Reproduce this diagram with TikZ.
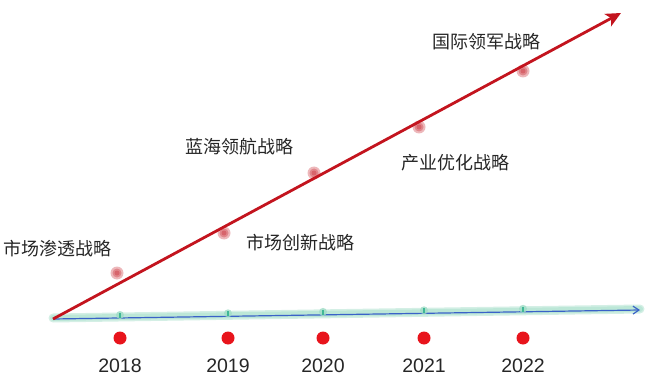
\documentclass[tikz,border=0pt]{standalone}
\usepackage{fontspec}
\setmainfont{Liberation Sans}
\newfontfamily\cjk{Noto Sans CJK SC}
\usetikzlibrary{arrows.meta}
\definecolor{linered}{HTML}{C3141E}
\definecolor{dotred}{HTML}{E8141C}
\definecolor{axisblue}{HTML}{3A62C8}
\definecolor{glow}{HTML}{9FDCC6}
\definecolor{tickgreen}{HTML}{3FB896}
\tikzset{
  stage/.style={font=\cjk\fontsize{18}{18}\selectfont, text=black!85, inner sep=0pt},
  year/.style={font=\fontsize{19.5}{19.5}\selectfont, text=black!85, inner sep=0pt},
  yeardot/.style={circle, fill=dotred, minimum size=13pt, inner sep=0pt},
  blurdot/.style={fill=linered, opacity=0.3},
  glowline/.style={glow, line cap=round, line join=round, opacity=0.45}
}
\begin{document}
\begin{tikzpicture}[x=1pt,y=-1pt]
  \useasboundingbox (0,0) rectangle (650,382);
  \coordinate (o) at (53,319);
  \coordinate (tip) at (621,13);
  \coordinate (xend) at (640,310);
  % time axis
  \draw[glowline, line width=9pt] ([yshift=1pt]o) -- ([yshift=1pt]xend);
  \draw[glowline, line width=6pt] ([yshift=1pt]o) -- ([yshift=1pt]xend);
  \draw[axisblue, line width=1.2pt, -{Straight Barb[length=6pt,width=8pt]}] (o) -- (xend);
  \foreach \x/\yr in {120/2018,228/2019,323/2020,424/2021,523/2022}{
    \pgfmathsetmacro{\ya}{319-9*(\x-53)/587}
    \fill[glow, opacity=0.8] (\x,\ya-3) circle (4);
    \draw[tickgreen, line width=1.2pt] (\x,\ya-5) -- (\x,\ya);
    \node[yeardot] (d\yr) at (\x,338) {};
    \node[year] (y\yr) at (\x,366) {\yr};
  }
  % strategy line
  \draw[linered, line width=2.8pt, -{Stealth[length=15pt,width=14pt,inset=4pt]}] (o) -- (tip);
  \foreach \px/\py in {117/273,224/233,314/173,419/127,523/71}{
    \fill[blurdot] (\px,\py) circle (6.5);
    \fill[blurdot] (\px,\py) circle (4.5);
    \fill[blurdot] (\px,\py) circle (2.5);
  }
  \node[stage] (s1) at (57,249) {市场渗透战略};
  \node[stage] (s2) at (300,243) {市场创新战略};
  \node[stage] (s3) at (239,147) {蓝海领航战略};
  \node[stage] (s4) at (455,163) {产业优化战略};
  \node[stage] (s5) at (486,42) {国际领军战略};
\end{tikzpicture}
\end{document}
